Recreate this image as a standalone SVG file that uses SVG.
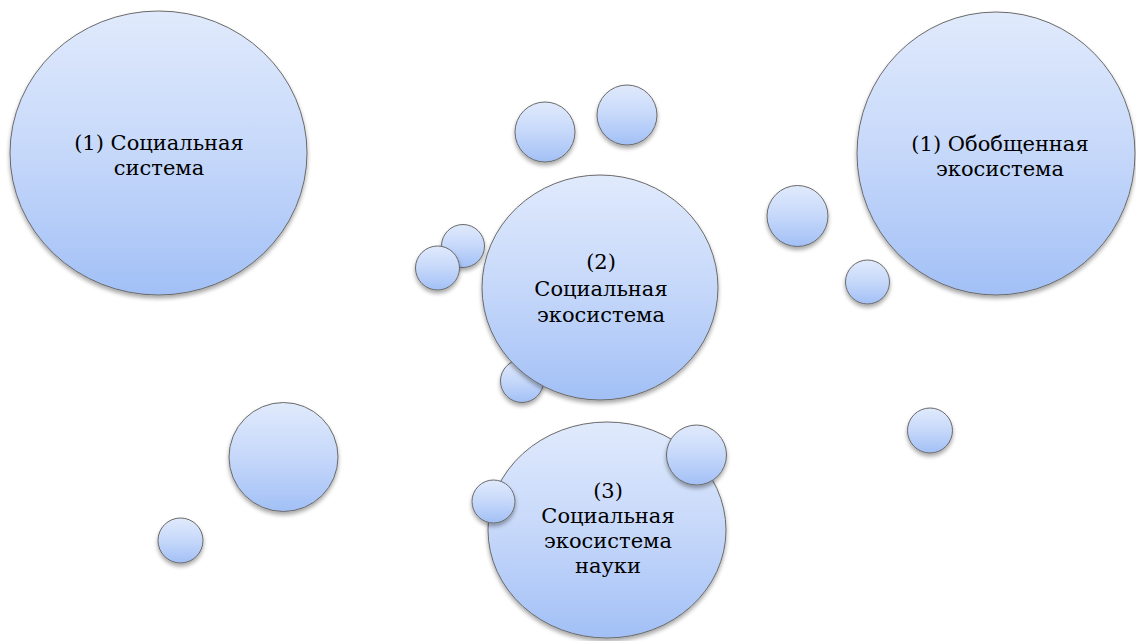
<svg xmlns="http://www.w3.org/2000/svg" width="1136" height="641" viewBox="0 0 1136 641">
<defs>
<linearGradient id="g" x1="0" y1="0" x2="0" y2="1">
<stop offset="0" stop-color="#e0eafc"/>
<stop offset="0.5" stop-color="#c6d8fa"/>
<stop offset="1" stop-color="#a2c0f6"/>
</linearGradient>
<filter id="sh" x="-20%" y="-20%" width="140%" height="140%">
<feGaussianBlur in="SourceAlpha" stdDeviation="2"/>
<feOffset dx="0" dy="3" result="b"/>
<feComponentTransfer><feFuncA type="linear" slope="0.35"/></feComponentTransfer>
<feMerge><feMergeNode/><feMergeNode in="SourceGraphic"/></feMerge>
</filter>
</defs>
<style>
.c{fill:url(#g);stroke:#6a6a6a;stroke-width:1;filter:url(#sh)}
.t{font-family:"DejaVu Serif",serif;font-size:21px;fill:#000;text-anchor:middle}
</style>
<rect width="1136" height="641" fill="#fff"/>
<g id="connectors"/>
<g id="n-social-system">
<ellipse class="c" cx="158.5" cy="153" rx="148.5" ry="142"/>
<text class="t" x="159" y="150">(1) Социальная</text>
<text class="t" x="159" y="175">система</text>
</g>
<g id="n-general-ecosystem">
<ellipse class="c" cx="996" cy="153.5" rx="139" ry="141.5"/>
<text class="t" x="1000" y="151">(1) Обобщенная</text>
<text class="t" x="1000" y="176">экосистема</text>
</g>
<g id="b1"><circle class="c" cx="545" cy="132" r="30"/></g>
<g id="b2"><circle class="c" cx="627" cy="115" r="30"/></g>
<g id="b3"><circle class="c" cx="463" cy="246" r="21.5"/></g>
<g id="b4"><circle class="c" cx="437.5" cy="268" r="22"/></g>
<g id="b5"><circle class="c" cx="522" cy="381" r="21.5"/></g>
<g id="n-social-ecosystem">
<ellipse class="c" cx="600" cy="287.5" rx="118" ry="112.5"/>
<text class="t" x="601" y="269">(2)</text>
<text class="t" x="601" y="296">Социальная</text>
<text class="t" x="601" y="322">экосистема</text>
</g>
<g id="n-science-ecosystem">
<ellipse class="c" cx="607" cy="530" rx="119" ry="108"/>
<text class="t" x="608" y="498">(3)</text>
<text class="t" x="608" y="523">Социальная</text>
<text class="t" x="608" y="548">экосистема</text>
<text class="t" x="608" y="573">науки</text>
</g>
<g id="b6"><circle class="c" cx="696.5" cy="455" r="30"/></g>
<g id="b7"><circle class="c" cx="493.5" cy="501.5" r="21.5"/></g>
<g id="b8"><circle class="c" cx="797.5" cy="216" r="30.5"/></g>
<g id="b9"><circle class="c" cx="867.5" cy="282" r="22"/></g>
<g id="b10"><circle class="c" cx="930" cy="430.5" r="22.5"/></g>
<g id="b11"><circle class="c" cx="283.5" cy="457" r="54.5"/></g>
<g id="b12"><circle class="c" cx="180.5" cy="540.5" r="22.5"/></g>
</svg>
